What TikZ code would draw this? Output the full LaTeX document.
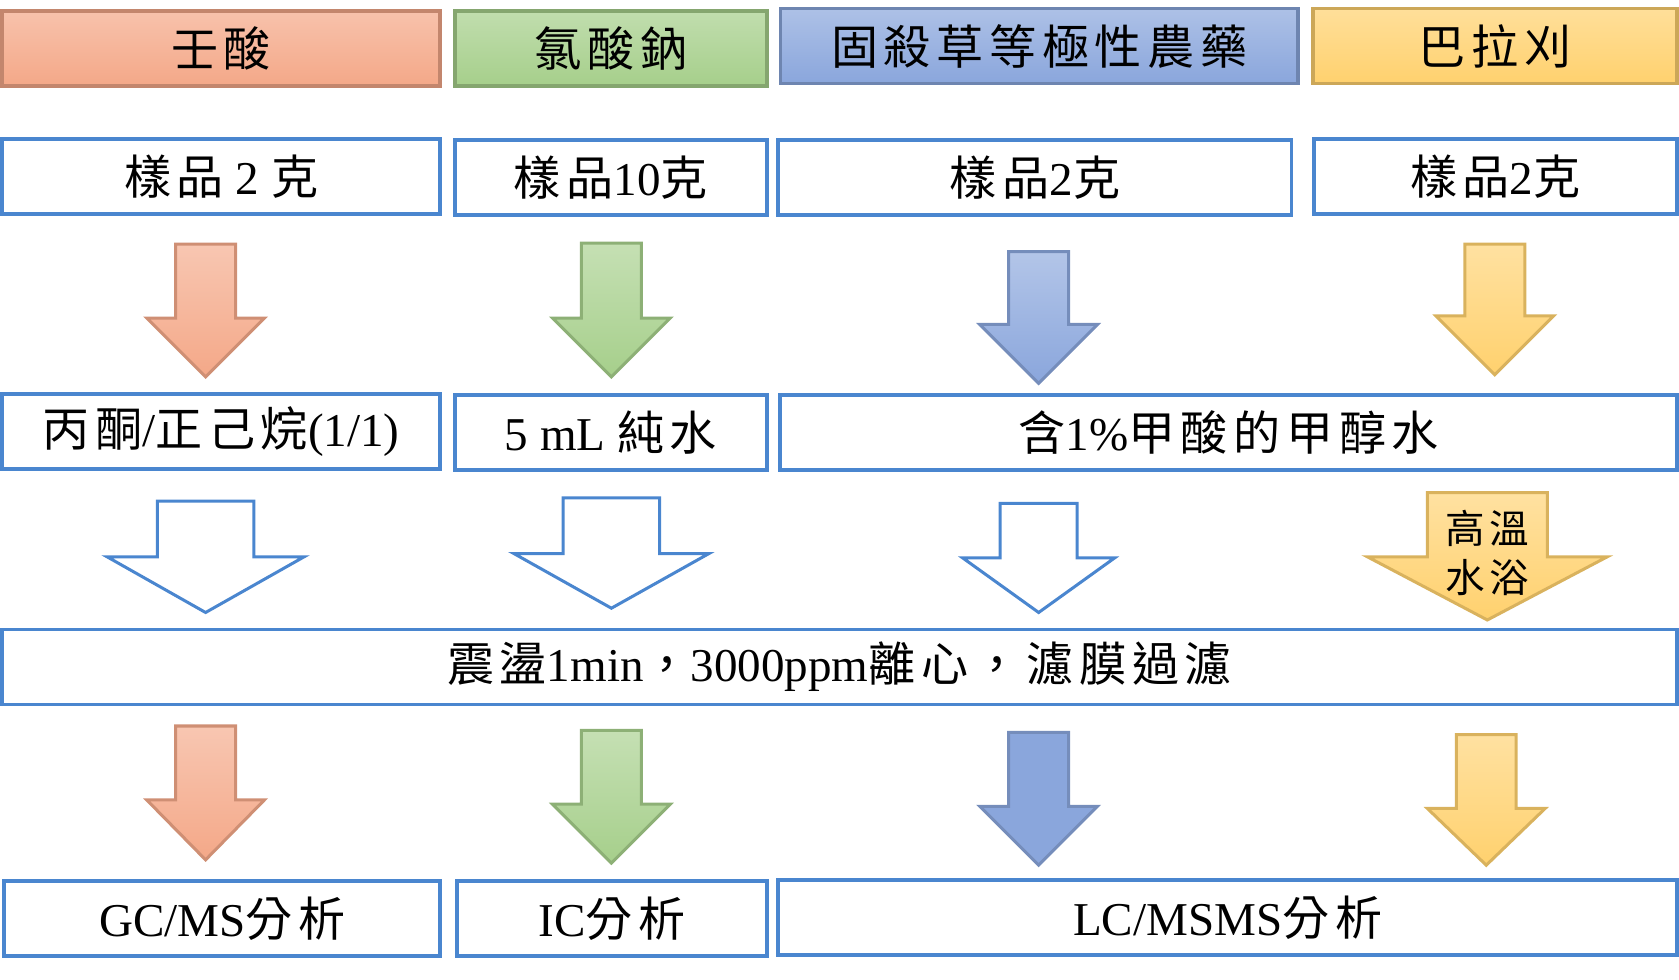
\documentclass[tikz,border=0pt]{standalone}
\usepackage{fontspec}
\setmainfont{Liberation Serif}
\newfontfamily\cjk[LetterSpace=12]{Noto Sans CJK TC}
\newcommand\zh[1]{{\cjk #1}}
\usetikzlibrary{positioning}

% arrow: centre x, top y, bottom y, half shaft, half head, head start y, style
\newcommand\farrow[7]{\draw[#7] (#1-#4,#2) -- (#1+#4,#2) -- (#1+#4,#6) -- (#1+#5,#6) -- (#1,#3) -- (#1-#5,#6) -- (#1-#4,#6) -- cycle;}

\begin{document}
\begin{tikzpicture}[x=0.01cm,y=-0.01cm]
        % Define styles
        \definecolor{edge}{HTML}{4A86CF}
        \tikzset{
          box/.style={rectangle, draw=edge, line width=1pt, fill=white, inner sep=0pt, font=\fontsize{12.5pt}{14pt}\selectfont},
          head/.style={box, draw=#1!80!black, top color=#1!70, bottom color=#1},
          flow/.style={draw=#1!85!black, line width=0.8pt, top color=#1!65, bottom color=#1},
          hollow/.style={draw=edge, line width=0.8pt, fill=white}
        }
        \definecolor{salmon}{HTML}{F4A888}
        \definecolor{leaf}{HTML}{A6CF8B}
        \definecolor{sky}{HTML}{8AA6DC}
        \definecolor{gold}{HTML}{FFD16E}
        \useasboundingbox (0,0) rectangle (1568,915);

        % Header row
        \node (h1) [head=salmon, minimum width=4.09cm, minimum height=0.7cm] at (206.5,45) {\zh{壬酸}};
        \node (h2) [head=leaf, minimum width=2.91cm, minimum height=0.7cm] at (570.5,45) {\zh{氯酸鈉}};
        \node (h3) [head=sky, minimum width=4.83cm, minimum height=0.7cm] at (970.5,43) {\zh{固殺草等極性農藥}};
        \node (h4) [head=gold, minimum width=3.4cm, minimum height=0.7cm] at (1396,43) {\zh{巴拉刈}};

        % Sample row
        \node (s1) [box, minimum width=4.09cm, minimum height=0.7cm] at (206.5,165) {\zh{樣品} 2 \zh{克}};
        \node (s2) [box, minimum width=2.91cm, minimum height=0.7cm] at (570.5,166) {\zh{樣品}10\zh{克}};
        \node (s3) [box, minimum width=4.79cm, minimum height=0.7cm] at (966.5,166) {\zh{樣品}2\zh{克}};
        \node (s4) [box, minimum width=3.39cm, minimum height=0.7cm] at (1396.5,165) {\zh{樣品}2\zh{克}};

        % Solvent row
        \node (e1) [box, minimum width=4.09cm, minimum height=0.7cm] at (206.5,403) {\zh{丙酮}/\zh{正己烷}(1/1)};
        \node (e2) [box, minimum width=2.91cm, minimum height=0.7cm] at (570.5,404) {5 mL \zh{純水}};
        \node (e3) [box, minimum width=8.37cm, minimum height=0.7cm] at (1147.5,404) {\zh{含}1\%\zh{甲酸的甲醇水}};

        % Common step
        \node (c) [box, minimum width=15.64cm, minimum height=0.7cm] at (784,623) {\zh{震盪}1min\zh{，}3000ppm\zh{離心，濾膜過濾}};

        % Analysis row
        \node (a1) [box, minimum width=4.07cm, minimum height=0.7cm] at (207.5,858) {GC/MS\zh{分析}};
        \node (a2) [box, minimum width=2.89cm, minimum height=0.7cm] at (571.5,858) {IC\zh{分析}};
        \node (a3) [box, minimum width=8.39cm, minimum height=0.7cm] at (1146.5,857) {LC/MSMS\zh{分析}};

        % Arrows
        \farrow{192}{228}{352}{28}{55}{297}{flow=salmon}
        \farrow{571}{227}{352}{28}{55}{297}{flow=leaf}
        \farrow{970}{235}{358}{28}{55}{303}{flow=sky}
        \farrow{1396}{228}{350}{28}{55}{295}{flow=gold}

        \farrow{192}{468}{572}{45}{92}{520}{hollow}
        \farrow{571}{465}{568}{45}{91}{517}{hollow}
        \farrow{970}{470}{572}{36}{71}{521}{hollow}
        \farrow{1389}{460}{579}{56}{112}{520}{flow=gold}
        \node (bath) [font=\fontsize{10.5pt}{13pt}\selectfont, align=center] at (1389,516) {\zh{高溫}\\\zh{水浴}};

        \farrow{192}{678}{803}{28}{55}{747}{flow=salmon}
        \farrow{571}{682}{806}{28}{55}{751}{flow=leaf}
        \farrow{970}{684}{808}{28}{55}{753}{draw=sky!85!black, line width=0.8pt, fill=sky}
        \farrow{1388}{686}{808}{28}{55}{755}{flow=gold}
    \end{tikzpicture}
\end{document}
